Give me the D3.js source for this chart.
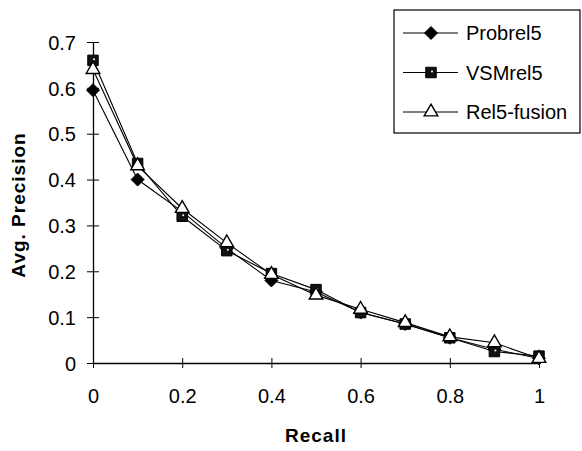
<!DOCTYPE html>
<html>
<head>
<meta charset="utf-8">
<script src="https://cdn.jsdelivr.net/npm/d3@7/dist/d3.min.js"></script>
<style>
body { margin: 0; background: #fff; }
svg text { font-family: "Liberation Sans", Arial, sans-serif; fill: #000; }
</style>
</head>
<body>
<div id="chart"></div>
<script>
// recall levels (x)
var recall = [0, 0.1, 0.2, 0.3, 0.4, 0.5, 0.6, 0.7, 0.8, 0.9, 1];
// avg. precision per run
var probrel5 = [0.595, 0.40, 0.33, 0.25, 0.18, 0.155, 0.11, 0.085, 0.055, 0.03, 0.01];
var vsmrel5 = [0.66, 0.435, 0.32, 0.245, 0.195, 0.16, 0.11, 0.085, 0.055, 0.025, 0.015];
var fusion = [0.64, 0.43, 0.337, 0.262, 0.193, 0.148, 0.117, 0.088, 0.057, 0.044, 0.01];
var seriesNames = ["Probrel5", "VSMrel5", "Rel5-fusion"];
var xTicks = [0, 0.2, 0.4, 0.6, 0.8, 1];
var yTicks = [0, 0.1, 0.2, 0.3, 0.4, 0.5, 0.6, 0.7];

var w = 582, h = 451;
var svg = d3.select("#chart").append("svg").attr("width", w).attr("height", h);

var x = d3.scaleLinear().domain([0, 1]).range([93, 539]);
var y = d3.scaleLinear().domain([0, 0.7]).range([363, 42]);

// axes
var gx = svg.append("g").attr("transform", "translate(0," + y(0) + ")")
  .call(d3.axisBottom(x).tickValues(xTicks).tickSize(0).tickFormat(d3.format("")));
gx.select(".domain").attr("stroke", "#000").attr("stroke-width", 1.3);
gx.selectAll(".tick line").remove();
gx.selectAll(".tick").append("line").attr("y1", -5).attr("y2", 5).attr("stroke", "#000");
gx.selectAll(".tick text").attr("dy", 0).attr("y", 40).style("font-size", "20px");

var gy = svg.append("g").attr("transform", "translate(" + x(0) + ",0)")
  .call(d3.axisLeft(y).tickValues(yTicks).tickSize(0).tickFormat(d3.format("")));
gy.select(".domain").attr("stroke", "#000").attr("stroke-width", 1.3);
gy.selectAll(".tick line").remove();
gy.selectAll(".tick").append("line").attr("x1", -6).attr("x2", 6).attr("stroke", "#000");
gy.selectAll(".tick text").attr("x", -17).attr("dy", "0.36em").style("font-size", "20px");

svg.append("text").attr("x", 316).attr("y", 442).attr("text-anchor", "middle")
  .style("font-size", "19px").style("font-weight", "bold").style("letter-spacing", "1px").text("Recall");
svg.append("text").attr("transform", "translate(25,205) rotate(-90)").attr("text-anchor", "middle")
  .style("font-size", "19px").style("font-weight", "bold").style("letter-spacing", "1px").text("Avg. Precision");

var line = d3.line().x(function(d, i) { return x(recall[i]); }).y(function(d) { return y(d); });

var all = [probrel5, vsmrel5, fusion];
var fills = ["#000", "#111", "#fff"];

function markerPath(k) {
  if (k == 0) return "M0,-6.5L6.5,0L0,6.5L-6.5,0Z";
  if (k == 1) return d3.symbol().type(d3.symbolSquare).size(110)();
  return d3.symbol().type(d3.symbolTriangle).size(80)();
}

all.forEach(function(vals) {
  svg.append("path").datum(vals).attr("d", line)
    .attr("fill", "none").attr("stroke", "#000").attr("stroke-width", 1.1);
});

function drawMarker(g, k, cx, cy) {
  g.append("path").attr("d", markerPath(k))
    .attr("transform", "translate(" + cx + "," + cy + ")")
    .attr("fill", fills[k]).attr("stroke", "#000").attr("stroke-width", k == 2 ? 1.4 : 1);
  if (k == 1) {
    g.append("circle").attr("cx", cx + 1).attr("cy", cy - 1).attr("r", 1).attr("fill", "#fff");
  }
}

all.forEach(function(vals, k) {
  var g = svg.append("g");
  vals.forEach(function(v, i) { drawMarker(g, k, x(recall[i]), y(v)); });
});

// legend
var lg = svg.append("g");
lg.append("rect").attr("x", 394).attr("y", 10).attr("width", 186).attr("height", 123)
  .attr("fill", "#fff").attr("stroke", "#000").attr("stroke-width", 1.2);
var rowY = d3.scalePoint().domain(seriesNames).range([33, 112]);
seriesNames.forEach(function(name, k) {
  var ry = rowY(name);
  lg.append("line").attr("x1", 403).attr("x2", 458).attr("y1", ry).attr("y2", ry).attr("stroke", "#000");
  drawMarker(lg, k, 431, ry);
  lg.append("text").attr("x", 466).attr("y", ry).attr("dy", "0.36em").style("font-size", "20px").text(name);
});
</script>
</body>
</html>
